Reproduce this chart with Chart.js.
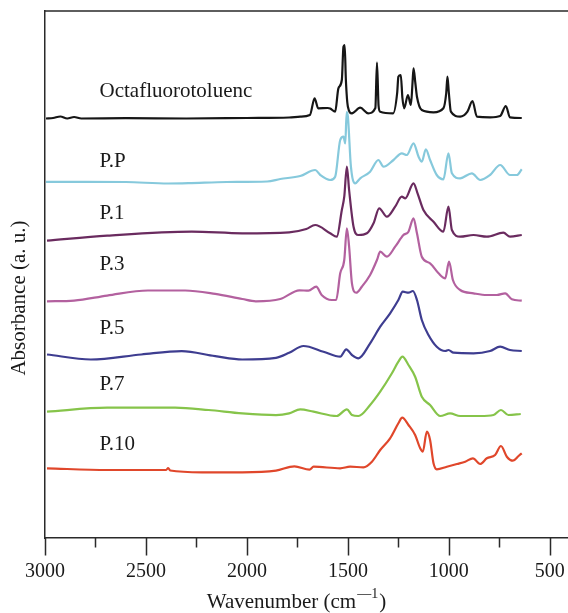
<!DOCTYPE html>
<html lang="en">
<head>
    <meta charset="UTF-8">
    <title>FTIR spectra</title>
    <script src="https://cdn.jsdelivr.net/npm/chart.js@4.4.1/dist/chart.umd.min.js"></script>
    <style>
        html, body { margin: 0; padding: 0; background: #fff; }
        #chart { display: block; }
    </style>
</head>
<body>
    <canvas id="chart" width="568" height="613"></canvas>

    <script>
        // Series names and colours
        const seriesNames = ['Octafluorotoluenc', 'P.P', 'P.1', 'P.3', 'P.5', 'P.7', 'P.10'];
        const seriesColors = ['#161616', '#86c9dc', '#6a2b5f', '#b3619f', '#3e3d90', '#86c44a', '#e0472b'];

        // Stacked absorbance traces, [wavenumber, absorbance (offset, a.u.)]
        const octaData = [
            [2995, 419.5], [2960, 420], [2924, 421.5], [2890, 419.5], [2856, 421], [2820, 419.5],
            [2600, 419.8], [2300, 419.5], [2000, 420], [1791, 420.5], [1736, 421.3], [1688, 423],
            [1665, 439.7], [1647, 429.7], [1600, 430], [1588, 429.5], [1563, 426.3], [1547, 449.7],
            [1530, 458], [1522, 491.3], [1516, 493], [1510, 458], [1500, 431.3], [1480, 424.7],
            [1439, 430.3], [1400, 424.7], [1364, 430], [1356, 475.3], [1348, 432], [1340, 426.3],
            [1276, 424.7], [1256, 445], [1250, 461.3], [1238, 463], [1230, 440], [1221, 429.7],
            [1203, 443], [1188, 433], [1180, 455], [1175, 469.7], [1166, 455], [1158, 441.3],
            [1134, 428], [1076, 425.7], [1027, 429.7], [1013, 445], [1007, 461.3], [1000, 445],
            [990, 426.3], [944, 421.3], [908, 426.3], [883, 437], [861, 421.3], [796, 420.7],
            [746, 422], [718, 432], [697, 420.7], [639, 420]
        ];
        const ppData = [
            [2995, 356.2], [2800, 356.2], [2600, 356], [2390, 354.5], [2290, 354.8], [2100, 356],
            [1900, 356.5], [1835, 359], [1736, 362], [1662, 368], [1637, 363], [1588, 358],
            [1563, 361.3], [1538, 398], [1522, 401.3], [1513, 394.7], [1506, 426], [1500, 421.3],
            [1485, 371.3], [1464, 354.7], [1439, 359.7], [1390, 366.3], [1349, 378], [1324, 371.3],
            [1274, 378], [1233, 384.7], [1208, 383], [1175, 394.7], [1150, 381.3], [1134, 376.3],
            [1114, 388.7], [1093, 378], [1060, 363], [1027, 358.7], [1002, 384.7], [985, 364.7],
            [944, 359.7], [886, 364.7], [845, 358], [796, 363], [746, 373], [697, 363],
            [663, 363], [639, 368.7]
        ];
        const p1Data = [
            [2990, 297.3], [2692, 302.3], [2273, 306.4], [2023, 304.7], [1791, 305.7], [1706, 309],
            [1662, 313], [1588, 304.7], [1555, 301.3], [1530, 328], [1518, 341.3], [1505, 371.3],
            [1494, 348], [1472, 311.3], [1448, 303], [1406, 304.7], [1373, 314.7], [1345, 329.7],
            [1307, 321.3], [1266, 331.3], [1233, 341.3], [1216, 339.7], [1175, 354.7], [1155, 344.7],
            [1126, 328], [1076, 316.3], [1027, 306.3], [1002, 331.3], [985, 308], [944, 301.3],
            [878, 303], [812, 301.3], [730, 305.3], [697, 301.3], [639, 303]
        ];
        const p3Data = [
            [2990, 236.7], [2856, 237.4], [2692, 242.4], [2490, 247.5], [2306, 247.5], [2157, 244.1],
            [2023, 239], [1956, 236.7], [1835, 239], [1740, 247.7], [1695, 247.3], [1657, 251.3],
            [1630, 243], [1580, 238], [1558, 238], [1538, 264.7], [1518, 278], [1505, 309.7],
            [1494, 291.3], [1480, 254.7], [1459, 245.3], [1431, 251.3], [1390, 263], [1356, 278],
            [1340, 286.3], [1307, 281.3], [1266, 291.3], [1225, 303], [1200, 306.3], [1175, 319.7],
            [1158, 304.7], [1134, 281.3], [1093, 274.7], [1051, 264.7], [1018, 259.7], [999, 276.3],
            [980, 258], [944, 248], [878, 244.7], [812, 243], [762, 243], [721, 244.7],
            [688, 238.7], [639, 237.3]
        ];
        const p5Data = [
            [2990, 183.5], [2773, 178.5], [2523, 183.5], [2323, 186.9], [2157, 181.8], [2023, 178.5],
            [1856, 180.2], [1791, 185.2], [1720, 192], [1621, 186.3], [1538, 181.3], [1508, 188.7],
            [1480, 183], [1448, 179.7], [1390, 194.7], [1340, 211.3], [1291, 224.7], [1250, 238],
            [1228, 246.3], [1200, 245.3], [1178, 247], [1158, 238], [1134, 218], [1101, 203],
            [1060, 191.3], [1018, 187], [1002, 188], [977, 185.3], [878, 184.7], [796, 187],
            [746, 191.3], [697, 188], [639, 187]
        ];
        const p7Data = [
            [2990, 126.3], [2692, 130.3], [2356, 130.3], [2190, 128], [2023, 124.6], [1856, 122.9],
            [1791, 124.6], [1736, 128.7], [1670, 126.3], [1555, 122], [1505, 128.7], [1480, 123],
            [1448, 122], [1390, 133], [1340, 146.3], [1282, 164.7], [1250, 176.3], [1230, 181.3],
            [1200, 173], [1167, 161.3], [1134, 141.3], [1093, 133], [1043, 122], [994, 124.7],
            [944, 122], [845, 122], [779, 123], [742, 128], [705, 123], [644, 124]
        ];
        const p10Data = [
            [2990, 69.7], [2692, 68], [2400, 68], [2390, 70], [2380, 67.5], [2223, 65.7],
            [2023, 65.7], [1856, 67.4], [1765, 71.7], [1690, 68.4], [1670, 71.3], [1538, 69.7],
            [1489, 71.3], [1423, 70.7], [1381, 76.3], [1340, 88], [1291, 99.7], [1250, 114.7],
            [1231, 120.3], [1200, 113], [1167, 103], [1142, 89.7], [1129, 86.3], [1109, 106.3],
            [1093, 98], [1076, 74.7], [1060, 68.7], [1010, 71.3], [960, 74], [919, 76.3],
            [881, 79.7], [845, 74], [812, 79.7], [771, 83], [742, 92], [713, 81.3],
            [683, 77.3], [655, 82], [639, 84.7]
        ];
        const allSeries = [octaData, ppData, p1Data, p3Data, p5Data, p7Data, p10Data];

        // Where each trace name sits (absorbance level of the text centre)
        const labelLevels = [447, 377, 325, 274, 210, 154, 94];
        const labelWavenumber = 2730;

        // Axis ticks and titles
        const xTickStep = 250;
        const xLabelStep = 500;
        const xTitle = 'Wavenumber (cm';
        const xTitleSup = '\u20141';
        const yTitle = 'Absorbance (a. u.)';

        const serif = '"Liberation Serif", "Times New Roman", serif';

        // Draws the outward tick marks, top frame line, axis titles and the trace names
        const decorations = {
            id: 'decorations',
            afterDraw(chart) {
                const ctx = chart.ctx;
                const x = chart.scales.x;
                const y = chart.scales.y;
                const area = chart.chartArea;
                ctx.save();
                ctx.strokeStyle = '#2a2a2a';
                ctx.lineWidth = 1.5;
                ctx.beginPath();
                ctx.moveTo(area.left, area.top);
                ctx.lineTo(area.right, area.top);
                x.ticks.forEach(t => {
                    const px = Math.round(x.getPixelForValue(t.value)) + 0.5;
                    const len = t.value % xLabelStep === 0 ? 17.5 : 9.5;
                    ctx.moveTo(px, area.bottom);
                    ctx.lineTo(px, area.bottom + len);
                });
                ctx.stroke();

                ctx.fillStyle = '#1a1a1a';
                ctx.font = '21px ' + serif;
                ctx.textAlign = 'left';
                ctx.textBaseline = 'middle';
                seriesNames.forEach((name, i) => {
                    ctx.fillText(name, x.getPixelForValue(labelWavenumber), y.getPixelForValue(labelLevels[i]));
                });

                // x title with superscript
                ctx.textBaseline = 'alphabetic';
                const base = 608;
                const w1 = ctx.measureText(xTitle).width;
                ctx.font = '14px ' + serif;
                const w2 = ctx.measureText(xTitleSup).width;
                ctx.font = '21px ' + serif;
                const w3 = ctx.measureText(')').width;
                let tx = (area.left + area.right) / 2 - (w1 + w2 + w3 + 2) / 2 - 10;
                ctx.fillText(xTitle, tx, base);
                tx += w1 + 1;
                ctx.font = '14px ' + serif;
                ctx.fillText(xTitleSup, tx, base - 10);
                tx += w2 + 1;
                ctx.font = '21px ' + serif;
                ctx.fillText(')', tx, base);

                // y title
                ctx.save();
                ctx.translate(19.5, 298);
                ctx.rotate(-Math.PI / 2);
                ctx.textAlign = 'center';
                ctx.textBaseline = 'middle';
                ctx.fillText(yTitle, 0, 0);
                ctx.restore();
                ctx.restore();
            }
        };

        const ctx = document.getElementById('chart').getContext('2d');
        new Chart(ctx, {
            type: 'line',
            data: {
                datasets: allSeries.map((pts, i) => ({
                    label: seriesNames[i],
                    data: pts.map(p => ({ x: p[0], y: p[1] })),
                    borderColor: seriesColors[i],
                    borderWidth: 2.2,
                    pointRadius: 0,
                    cubicInterpolationMode: 'monotone',
                    borderJoinStyle: 'round',
                    fill: false
                }))
            },
            options: {
                responsive: false,
                animation: false,
                layout: { padding: { top: 11, left: 0, right: 0, bottom: 0 } },
                plugins: {
                    legend: { display: false },
                    tooltip: { enabled: false }
                },
                scales: {
                    x: {
                        type: 'linear',
                        reverse: true,
                        min: 410,
                        max: 3000,
                        afterFit: s => { s.height = 75; s.paddingLeft = 0; s.paddingRight = 0; },
                        grid: { display: false, drawTicks: false },
                        border: { display: true, color: '#2a2a2a', width: 1.5 },
                        ticks: {
                            stepSize: xTickStep,
                            includeBounds: false,
                            autoSkip: false,
                            maxRotation: 0,
                            padding: 22,
                            color: '#1a1a1a',
                            font: { family: serif, size: 20 },
                            callback: v => (v % xLabelStep === 0 ? String(v) : '')
                        },
                        title: { display: false }
                    },
                    y: {
                        min: 0,
                        max: 527,
                        afterFit: s => { s.width = 45; s.paddingTop = 0; s.paddingBottom = 0; },
                        grid: { display: false, drawTicks: false },
                        border: { display: true, color: '#2a2a2a', width: 1.5 },
                        ticks: { display: false },
                        title: { display: false }
                    }
                }
            },
            plugins: [decorations]
        });
    </script>
</body>
</html>
